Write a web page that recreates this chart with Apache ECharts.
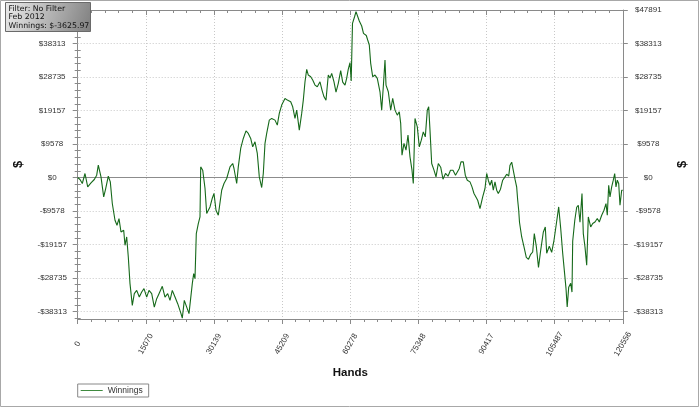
<!DOCTYPE html>
<html><head><meta charset="utf-8">
<script src="https://cdn.jsdelivr.net/npm/echarts@6/dist/echarts.min.js"></script>
<style>html,body{margin:0;padding:0;background:#fff}#c{width:700px;height:408px}</style>
</head><body><div id="c"></div>
<script>
const hands = [0,509,1017,1614,2212,2941,3671,4202,4556,5153,5750,6192,6767,7210,7652,8249,8692,9134,9576,10173,10461,10837,11191,11567,12075,12518,13048,13623,14154,14663,15260,15769,16366,16941,17472,17980,18710,19307,19904,20413,20922,21519,22116,22846,23133,23576,24106,24615,25057,25345,25655,25942,26230,26672,27048,27203,27645,28154,28530,29260,29768,30144,30587,31095,31847,32356,32953,33683,34280,34567,35164,35518,36049,36624,37221,37730,38261,38703,39212,39720,40163,40693,41047,41423,41799,42374,42905,43635,44143,44586,45117,45846,46355,47107,47549,48058,48434,49009,49540,49894,50270,50646,51000,51530,51973,52481,52990,53587,54030,54472,54914,55423,55799,56175,56683,57126,57634,58165,58607,59116,59492,59846,60222,60487,60775,61217,61549,61836,62279,62809,63207,63827,64136,64490,64800,65242,65751,66259,66856,67233,67587,67963,68184,68693,69223,69665,70174,70683,71125,71435,71722,72164,72607,73049,73492,73934,74222,74598,75106,75549,75991,76433,76876,77318,77627,77915,78291,78800,79242,79752,80281,80790,81343,81896,82449,83002,83555,83997,84394,84771,85279,85722,86164,86761,87204,87646,88088,88464,88973,89261,89570,90079,90454,90808,91184,91560,91914,92290,92666,93020,93506,93993,94501,94877,95320,95607,95983,96337,96713,97089,97310,97532,97709,98195,98704,99213,99699,100186,100628,100982,101424,101911,102397,102972,103415,103724,104299,104830,105339,105936,106378,106820,107263,107661,107993,108258,108590,109032,109320,109474,109939,110359,110713,111089,111532,111819,112195,112571,112925,113455,113897,114406,114915,115357,115888,116396,116839,117127,117436,117724,118099,118453,118763,119050,119338,119648,119935,120311,120556];
const winnings = [0,-573,-1718,1145,-2691,-1546,-573,658,3521,172,-5554,-3149,372,-1260,-7444,-12225,-13657,-11738,-15575,-15088,-19383,-17006,-22732,-30348,-36561,-33211,-32266,-34184,-32753,-31779,-34184,-32266,-33211,-37047,-34642,-33211,-31121,-34184,-33211,-35130,-32266,-34184,-36074,-38937,-40197,-35130,-37047,-38937,-39424,-30348,-27485,-28916,-16033,-13170,-11280,3035,2090,-3063,-10307,-8417,-5926,-4581,-9362,-10794,-3636,-1718,-286,3035,4008,2577,-1718,3035,8303,11166,13342,12597,11166,8761,10192,6871,172,-2863,1145,9734,12597,16405,16892,16405,14973,18323,20700,22618,22131,21644,20213,16892,19268,13542,18323,22131,27370,30920,29288,28802,27857,26426,25939,27370,24994,23076,22131,29288,28430,29775,27370,24421,26912,30577,27284,26426,28430,31006,32867,27571,44090,45894,47411,47891,44749,43317,41227,40597,39309,37877,32638,28802,29288,28344,24507,19268,25939,33583,26426,24507,19268,22618,19268,17836,18781,15460,6384,9734,7816,12110,5898,2090,-1718,16892,14487,8761,10679,13055,11624,19268,20213,13542,4008,2090,172,4008,2949,-487,1145,372,2090,2090,658,172,2577,4466,4466,658,-773,-1260,-2691,-4581,-4123,-6499,-8875,-9362,-5554,-3149,1145,-773,-2205,-773,-3636,-1260,-3636,-4581,-3350,-773,172,945,372,3521,4380,4667,-487,-2777,-6499,-9362,-12798,-17006,-19869,-22818,-23391,-21960,-21301,-16033,-19669,-25681,-20814,-15661,-14143,-21673,-19669,-21387,-17951,-12511,-8417,-14515,-21673,-27113,-31693,-37047,-31407,-30262,-32753,-18237,-12225,-8503,-7931,-12798,-4581,-16033,-19869,-25109,-11280,-14143,-13170,-12712,-11738,-12712,-10794,-9362,-7444,-10794,-2205,-5554,-2691,-773,1145,-2691,-773,-1718,-7931,-3636,-3626];
const xTicks = [0,15070,30139,45209,60278,75348,90417,105487,120556];
const yTicks = [-38313,-28735,-19157,-9578,0,9578,19157,28735,38313,47891];
const infoLines = ['Filter: No Filter','Feb 2012','Winnings: $-3625.97'];
const seriesName = 'Winnings';
const xName = 'Hands';
const yName = '$';

const xMax = 120556, yMin = -40457, yMax = 47891;
const xStep = xMax / 8;
const yStep = 9578.25;
const yMinor = [];
for (let k = -21; k <= 25; k++) { if (k % 5 !== 0) yMinor.push(k * yStep / 5); }

const chart = echarts.init(document.getElementById('c'), null, {renderer:'canvas'});
const fam = 'Liberation Sans, Arial, sans-serif';
const axisCol = '#8a8a8a';
const yFmt = v => (v < 0 ? '-' : '') + '$' + Math.round(Math.abs(v));
const data = hands.map((h, i) => [h, winnings[i]]);

function yAxisMain(pos) {
  return {
    type:'value', position:pos, min:yMin, max:yMax,
    axisLine:{show:true, onZero:false, lineStyle:{color:axisCol, width:1}},
    axisTick:{show:true, customValues:yTicks, length:5, lineStyle:{color:axisCol}},
    axisLabel:{show:true, customValues:yTicks, formatter:yFmt, align:'center', margin:25.5,
      fontSize:8, color:'#333', fontFamily:fam},
    splitLine:{show:false},
    name:yName, nameLocation:'middle', nameGap:53, nameRotate:90,
    nameTextStyle:{fontWeight:'bold', fontSize:13, color:'#111', fontFamily:fam}
  };
}
function yAxisMinor(pos) {
  return {
    type:'value', position:pos, min:yMin, max:yMax,
    axisLine:{show:false},
    axisTick:{show:true, customValues:yMinor, length:3, lineStyle:{color:axisCol}},
    axisLabel:{show:false}, splitLine:{show:false}
  };
}

const gridMarks = yTicks.filter(v => v !== 0 && v !== yMax).map(v => ({yAxis:v,
  lineStyle:{type:[1,2], color:'#c8c8c8', width:1}}));
gridMarks.push({yAxis:0, lineStyle:{type:'solid', color:'#8c8c8c', width:1}});

const boxFont = '7.8px "DejaVu Sans", sans-serif';
chart.setOption({
  animation:false,
  backgroundColor:'#fff',
  grid:{left:77.7, right:77.2, top:10, bottom:89, containLabel:false},
  xAxis:[
    {type:'value', position:'bottom', min:0, max:xMax, interval:xStep,
      axisLine:{show:true, onZero:false, lineStyle:{color:axisCol}},
      axisTick:{show:true, length:5, lineStyle:{color:axisCol}},
      minorTick:{show:true, splitNumber:5, length:3, lineStyle:{color:axisCol}},
      axisLabel:{customValues:xTicks, formatter:v => String(Math.round(v)), rotate:60,
        align:'center', verticalAlign:'middle', margin:25, fontSize:8, color:'#333', fontFamily:fam},
      splitLine:{show:true, lineStyle:{type:[1,2], color:'#c8c8c8'}},
      name:xName, nameLocation:'middle', nameGap:48,
      nameTextStyle:{fontWeight:'bold', fontSize:11.5, color:'#111', fontFamily:fam}},
    {type:'value', position:'top', min:0, max:xMax, interval:xStep,
      axisLine:{show:true, onZero:false, lineStyle:{color:axisCol}},
      axisTick:{show:true, inside:true, length:5, lineStyle:{color:axisCol}},
      minorTick:{show:true, splitNumber:5, length:3, lineStyle:{color:axisCol}},
      axisLabel:{show:false}, splitLine:{show:false}}
  ],
  yAxis:[yAxisMain('left'), yAxisMinor('left'), yAxisMain('right'), yAxisMinor('right')],
  legend:{show:true, left:77.7, top:384, orient:'horizontal',
    borderColor:'#888', borderWidth:1, borderRadius:0, padding:[2,6,2,3],
    itemWidth:22, itemHeight:8, itemGap:4,
    textStyle:{fontSize:8.5, color:'#333', fontFamily:fam},
    data:[{name:seriesName, icon:'path://M0,4L22,4L22,5L0,5Z'}]},
  series:[{
    name:seriesName, type:'line', xAxisIndex:0, yAxisIndex:0, data:data,
    symbol:'none', showSymbol:false, smooth:false,
    lineStyle:{color:'#16691a', width:1.1},
    itemStyle:{color:'#3f8a3f'},
    z:5,
    markLine:{silent:true, symbol:['none','none'], label:{show:false}, z:1,
      data:gridMarks}
  }],
  graphic:[
    {type:'rect', shape:{x:0.5,y:0.5,width:698,height:406}, z:-10,
      style:{fill:'none', stroke:'#a8a8a8', lineWidth:1}, silent:true},
    {type:'rect', zlevel:2, z:100, shape:{x:5.5,y:2.5,width:85,height:29},
      style:{fill:new echarts.graphic.LinearGradient(0,0,1,1,[{offset:0,color:'#ececec'},{offset:1,color:'#7e7e7e'}]),
        stroke:'#6a6a6a', lineWidth:1}},
    {type:'text', zlevel:2, z:101, x:8.5, y:4.5, style:{text:infoLines[0], font:boxFont, fill:'#111'}},
    {type:'text', zlevel:2, z:101, x:8.5, y:13, style:{text:infoLines[1], font:boxFont, fill:'#111'}},
    {type:'text', zlevel:2, z:101, x:8.5, y:22, style:{text:infoLines[2], font:boxFont, fill:'#111'}}
  ]
});
</script></body></html>
